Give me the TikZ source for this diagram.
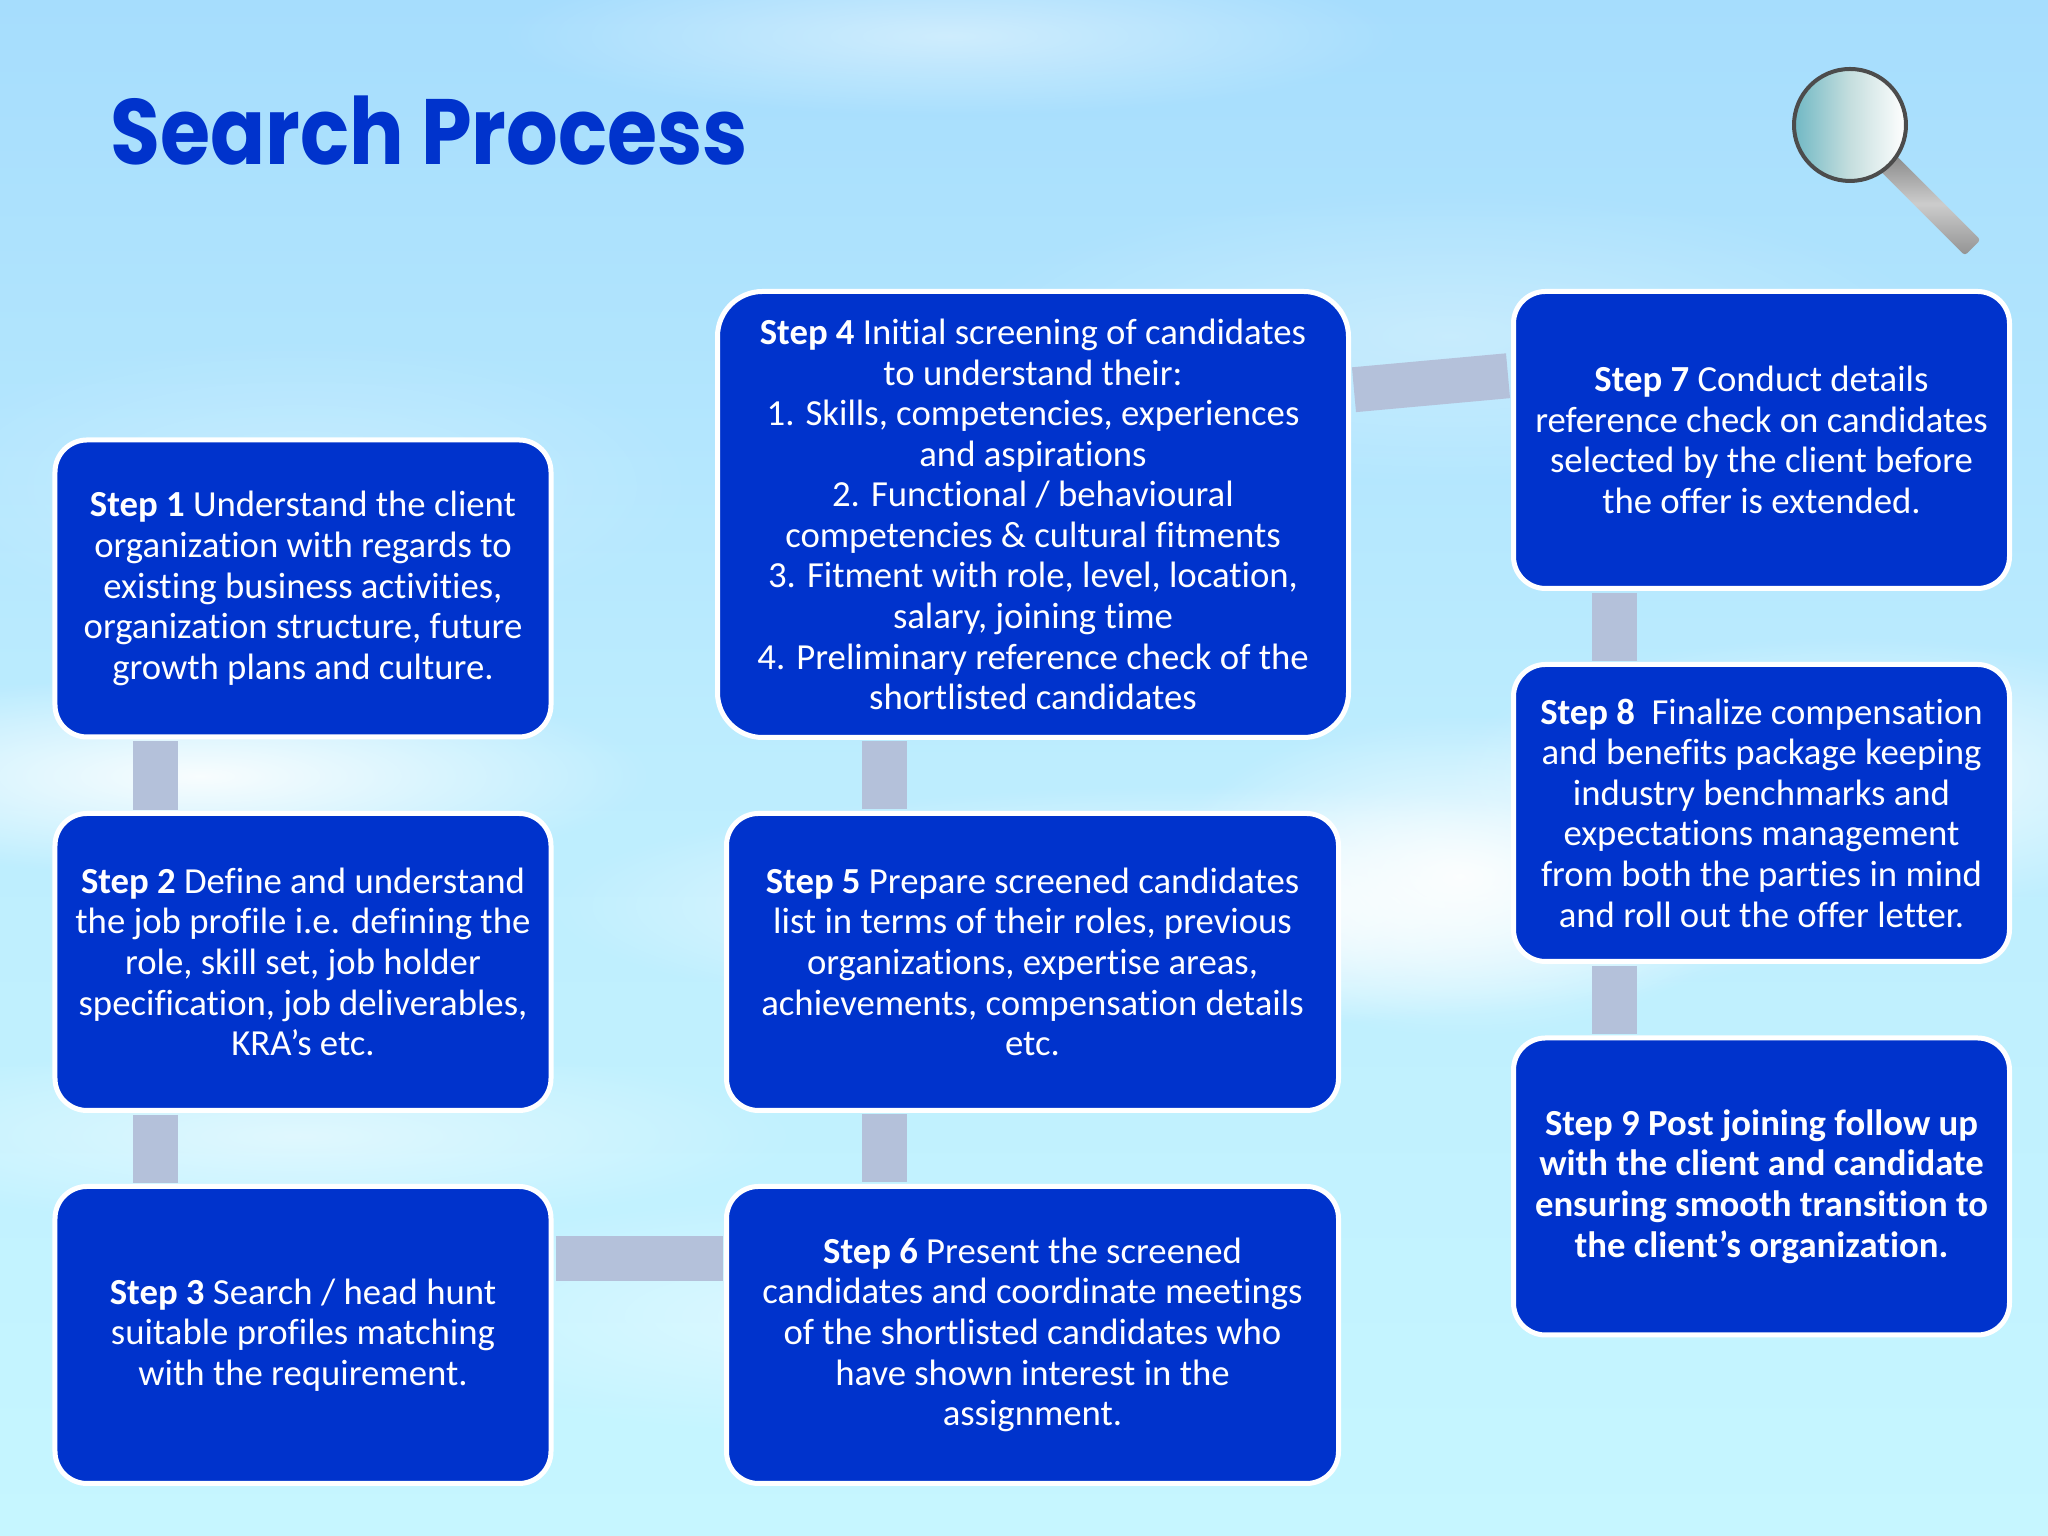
\documentclass[tikz,border=0pt]{standalone}
\usepackage{fontspec}
\setmainfont[Ligatures=NoCommon]{Carlito}
\newfontfamily\titlefont[FakeStretch=0.875]{Poppins}
\usetikzlibrary{fadings}

\definecolor{boxblue}{HTML}{0033CC}
\definecolor{linkgrey}{HTML}{B4C1DA}
\definecolor{skytop}{HTML}{A6DDFD}
\definecolor{skymid}{HTML}{BDEDFE}
\definecolor{skylow}{HTML}{C6F6FF}
\definecolor{lensteal}{HTML}{70B8C4}
\definecolor{lensmid}{HTML}{C5DEDE}

\tikzfading[name=softedge, inner color=transparent!0, outer color=transparent!100]

\tikzset{
  stepbox/.style={draw=white, line width=0.05cm, fill=boxblue, text=white, rounded corners=0.32cm,
    minimum width=4.96cm, minimum height=2.97cm, align=center, inner sep=0pt,
    font=\fontsize{10.45pt}{11.55pt}\selectfont},
  widebox/.style={stepbox, minimum width=6.12cm},
  linkbar/.style={linkgrey, line width=0.45cm, shorten <=0.02cm, shorten >=0.01cm}
}

\begin{document}
\begin{tikzpicture}
% Sky background
\useasboundingbox (0,0) rectangle (20.48,15.36);
\clip (0,0) rectangle (20.48,15.36);
\shade[top color=skytop, bottom color=skylow, middle color=skymid] (0,0) rectangle (20.48,15.36);
\foreach \cx/\cy/\rx/\ry/\op in {
  9.5/15.0/4.5/0.8/0.45, 2.0/7.6/4.5/1.0/0.9, 12.0/6.3/6.5/1.2/0.9, 18.5/7.6/4.0/1.4/0.8,
  14.6/6.6/3.0/1.6/0.9, 3.0/4.0/5.0/0.9/0.5, 8.5/2.2/5.0/1.2/0.45, 14.5/12.0/5.0/1.5/0.3,
  3.0/10.5/4.0/1.5/0.25}
  \fill[white, path fading=softedge, opacity=\op] (\cx,\cy) ellipse ({\rx} and {\ry});

% Title
\node[text=boxblue, font=\titlefont\bfseries\fontsize{26.4pt}{30pt}\selectfont, anchor=west] (title) at (0.98,14.05) {Search Process};

% Magnifier
\shade[rotate around={-45:(18.85,13.76)}, top color=gray!95, bottom color=gray!85, middle color=gray!40, rounded corners=0.03cm]
  (18.85,13.65) rectangle (20.09,13.87);
\shade[left color=lensteal, right color=white, middle color=lensmid, draw=gray!60!black, line width=0.04cm] (18.50,14.11) circle (0.56cm);

% First column
\node[stepbox] (s1) at (3.03,9.475) {\textbf{Step 1} Understand the client\\organization with regards to\\existing business activities,\\organization structure, future\\growth plans and culture.};
\node[stepbox] (s2) at (3.03,5.74) {\textbf{Step 2} Define and understand\\the job profile i.e. defining the\\role, skill set, job holder\\specification, job deliverables,\\KRA’s etc.};
\node[stepbox] (s3) at (3.03,2.01) {\textbf{Step 3} Search / head hunt\\suitable profiles matching\\with the requirement.};

% Middle column
\node[stepbox, minimum width=6.31cm, minimum height=4.46cm, rounded corners=0.45cm] (s4) at (10.33,10.215) {\textbf{Step 4} Initial screening of candidates\\to understand their:\\1. Skills, competencies, experiences\\and aspirations\\2. Functional / behavioural\\competencies \& cultural fitments\\3. Fitment with role, level, location,\\salary, joining time\\4. Preliminary reference check of the\\shortlisted candidates};
\node[widebox] (s5) at (10.325,5.74) {\textbf{Step 5} Prepare screened candidates\\list in terms of their roles, previous\\organizations, expertise areas,\\achievements, compensation details\\etc.};
\node[widebox] (s6) at (10.325,2.01) {\textbf{Step 6} Present the screened\\candidates and coordinate meetings\\of the shortlisted candidates who\\have shown interest in the\\assignment.};

% Right column
\node[stepbox] (s7) at (17.615,10.96) {\textbf{Step 7} Conduct details\\reference check on candidates\\selected by the client before\\the offer is extended.};
\node[stepbox] (s8) at (17.615,7.23) {\textbf{Step 8}\ \ Finalize compensation\\and benefits package keeping\\industry benchmarks and\\expectations management\\from both the parties in mind\\and roll out the offer letter.};
\node[stepbox, font=\fontsize{10.45pt}{11.55pt}\selectfont\bfseries] (s9) at (17.615,3.495) {Step 9 Post joining follow up\\with the client and candidate\\ensuring smooth transition to\\the client’s organization.};

% Bars between blocks
\draw[linkbar] ([xshift=-1.475cm]s1.south) -- ([xshift=-1.475cm]s2.north);
\draw[linkbar] ([xshift=-1.475cm]s2.south) -- ([xshift=-1.475cm]s3.north);
\draw[linkbar] ([yshift=0.765cm]s3.east) -- ([yshift=0.765cm]s6.west);
\draw[linkbar] ([xshift=-1.485cm]s6.north) -- ([xshift=-1.485cm]s5.south);
\draw[linkbar] ([xshift=-1.485cm]s5.north) -- ([xshift=-1.49cm]s4.south);
\draw[linkbar, shorten <=0.03cm, shorten >=0.03cm] ([yshift=1.245cm]s4.east) -- ([yshift=0.645cm]s7.west);
\draw[linkbar] ([xshift=-1.475cm]s7.south) -- ([xshift=-1.475cm]s8.north);
\draw[linkbar] ([xshift=-1.475cm]s8.south) -- ([xshift=-1.475cm]s9.north);
\end{tikzpicture}
\end{document}
